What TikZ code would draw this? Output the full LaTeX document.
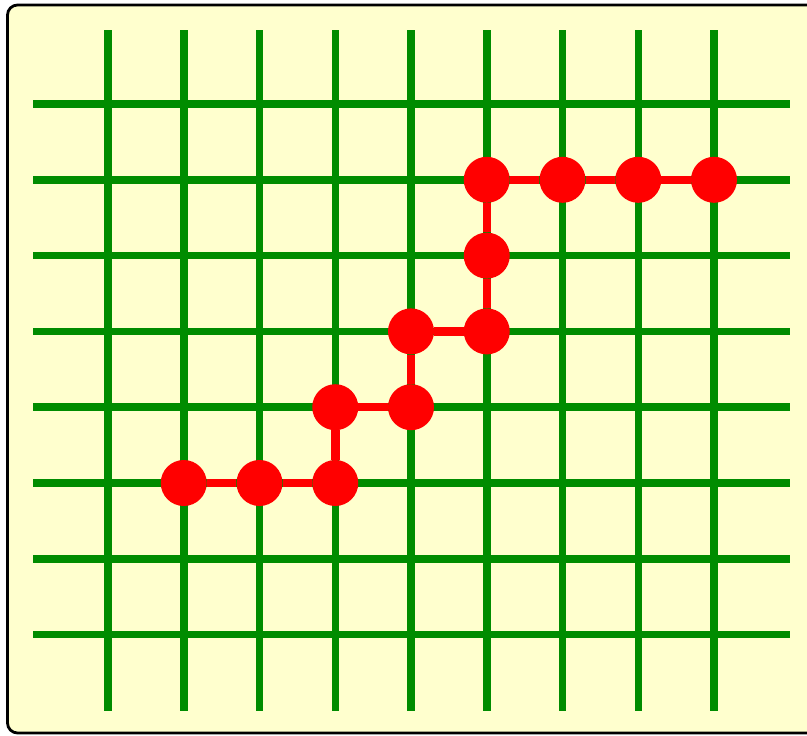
\documentclass[tikz,border=0pt]{standalone}
\begin{document}
\begin{tikzpicture}[x=1pt,y=-1pt,
  gridline/.style={draw={rgb,255:red,0;green,140;blue,0},line width=7.5pt},
  dot/.style={circle,fill=red,inner sep=0pt,minimum size=46pt},
  link/.style={draw=red,line width=8.5pt}]
\useasboundingbox (0,0) rectangle (807,736);
\clip (0,0) rectangle (807,736);
\draw[fill={rgb,255:red,255;green,255;blue,206},line width=2.8pt,rounded corners=10pt] (7.5,5) rectangle (830,733);
\foreach \i in {0,...,8} {
  \draw[gridline] ({108+75.75*\i},30) -- ({108+75.75*\i},711);
}
\foreach \j in {0,...,7} {
  \draw[gridline] (33,{104+75.8*\j}) -- (790,{104+75.8*\j});
}
\foreach \n/\i/\j in {a/1/5,b/2/5,c/3/5,d/3/4,e/4/4,f/4/3,g/5/3,h/5/2,k/5/1,l/6/1,m/7/1,o/8/1} {
  \node[dot] (\n) at ({108+75.75*\i},{104+75.8*\j}) {};
}
\draw[link] (a) -- (b) -- (c) -- (d) -- (e) -- (f) -- (g) -- (h) -- (k) -- (l) -- (m) -- (o);
\end{tikzpicture}
\end{document}
